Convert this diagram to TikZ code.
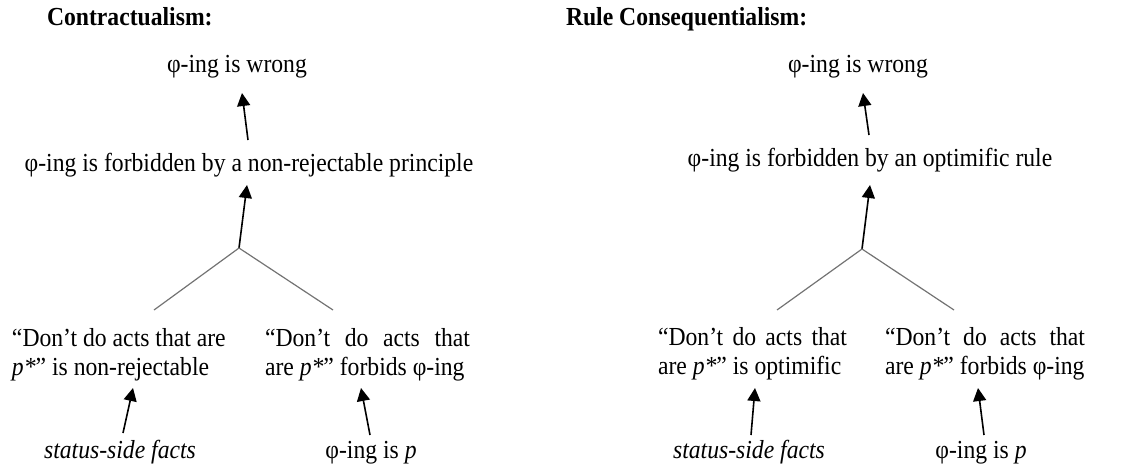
\documentclass[tikz,border=0pt]{standalone}
\usepackage{fontspec}
\setmainfont{Liberation Serif}[FakeStretch=0.91]
\usetikzlibrary{arrows.meta}

\begin{document}
\begin{tikzpicture}[
  x=1pt, y=-1pt,
  font=\fontsize{26}{29}\selectfont,
  every node/.style={inner sep=0pt, outer sep=0pt},
  heading/.style={anchor=base west, font=\fontsize{26}{29}\selectfont\bfseries},
  claim/.style={anchor=base},
  premise/.style={anchor=base west, align=left},
  arr/.style={-{Triangle[length=13pt, width=13pt]}, line width=1.6pt},
  branch/.style={draw=black!55, line width=1.2pt}
]
\useasboundingbox (0,0) rectangle (1132,467);

% contractualism
\node[heading] (titleC) at (47,25) {Contractualism:};
\node[claim] (wrongC) at (237,72) {φ-ing is wrong};
\node[claim] (forbC) at (249,171) {φ-ing is forbidden by a non-rejectable principle};
\coordinate (forkC) at (239,248);
\coordinate (forkCl) at (154,310);
\coordinate (forkCr) at (333,310);
\node[premise] (ruleC) at (12,375) {“Don’t do acts that are\\\textit{p*}” is non-rejectable};
\node[premise] (bansC) at (265,375) {\makebox[205pt][s]{“Don’t do acts that}\\are \textit{p*}” forbids φ-ing};
\node[claim] (factsC) at (120,458) {\textit{status-side facts}};
\node[claim] (ispC) at (371,458) {φ-ing is \textit{p}};

\draw[arr] ([shift={(-1,-31)}]forbC.base) -- ([shift={(5,21)}]wrongC.base);
\draw[arr] (forkC) -- ([shift={(-2,14)}]forbC.base);
\draw[branch] (forkCl) -- (forkC) -- (forkCr);
\draw[arr] ([shift={(3,-25)}]factsC.base) -- ([shift={(121,13)}]ruleC.base west);
\draw[arr] ([shift={(-1,-23)}]ispC.base) -- ([shift={(96,13)}]bansC.base west);

% rule consequentialism
\node[heading] (titleR) at (566,25) {Rule Consequentialism:};
\node[claim] (wrongR) at (858,72) {φ-ing is wrong};
\node[claim] (forbR) at (870,166) {φ-ing is forbidden by an optimific rule};
\coordinate (forkR) at (862,249);
\coordinate (forkRl) at (777,310);
\coordinate (forkRr) at (954,310);
\node[premise] (ruleR) at (658,374) {\makebox[189pt][s]{“Don’t do acts that}\\are \textit{p*}” is optimific};
\node[premise] (bansR) at (885,374) {\makebox[200pt][s]{“Don’t do acts that}\\are \textit{p*}” forbids φ-ing};
\node[claim] (factsR) at (749,458) {\textit{status-side facts}};
\node[claim] (ispR) at (981,458) {φ-ing is \textit{p}};

\draw[arr] ([shift={(-1,-31)}]forbR.base) -- ([shift={(5,21)}]wrongR.base);
\draw[arr] (forkR) -- ([shift={(0,19)}]forbR.base);
\draw[branch] (forkRl) -- (forkR) -- (forkRr);
\draw[arr] ([shift={(2,-23)}]factsR.base) -- ([shift={(97,14)}]ruleR.base west);
\draw[arr] ([shift={(3,-23)}]ispR.base) -- ([shift={(93,14)}]bansR.base west);
\end{tikzpicture}
\end{document}
